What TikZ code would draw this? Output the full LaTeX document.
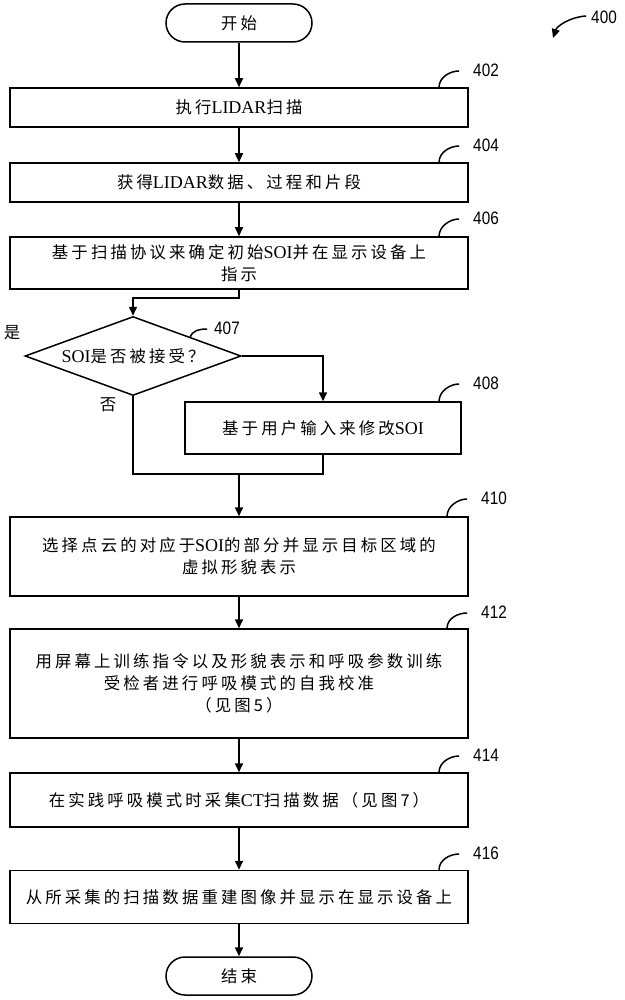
\documentclass[tikz,border=0pt]{standalone}
\usepackage{fontspec}
\setmainfont{Liberation Serif}
\newfontfamily\zhfont[LetterSpace=19]{Noto Sans CJK SC}
\newfontfamily\numfont[FakeStretch=0.85]{Liberation Sans}
\newcommand\zh[1]{{\zhfont\fontsize{16.4}{22}\selectfont #1}}
\newcommand\la[1]{{\fontsize{18}{22}\selectfont #1}}
\usetikzlibrary{shapes.geometric,arrows.meta,calc}

\begin{document}
\begin{tikzpicture}[x=1pt,y=-1pt,
  box/.style={draw, line width=1.5pt, minimum width=458pt, inner sep=0pt, align=center, font=\fontsize{16.4}{22}\selectfont},
  term/.style={draw, line width=1.5pt, rounded corners=19pt, minimum width=146pt, minimum height=38pt, inner sep=0pt},
  arr/.style={line width=1.5pt, -{Triangle[length=9pt,width=8pt]}},
  ln/.style={line width=1.5pt},
  num/.style={font=\numfont\fontsize{18}{20}\selectfont, inner sep=0pt},
  hookline/.style={line width=1.5pt},
]
\useasboundingbox (0,0) rectangle (624,1000);

\node[term] (start) at (239,23) {\zh{开始}};
\node[box, minimum height=39pt] (b402) at (239,107.5) {\zh{执行}\la{LIDAR}\zh{扫描}};
\node[box, minimum height=39pt] (b404) at (239,182.5) {\zh{获得}\la{LIDAR}\zh{数据、过程和片段}};
\node[box, minimum height=52pt] (b406) at (239,263) {\zh{基于扫描协议来确定初始}\la{SOI}\zh{并在显示设备上}\\\zh{指示}};
\node[draw, diamond, line width=1.5pt, minimum width=216pt, minimum height=79pt, inner sep=0pt, shape aspect=2.7] (dia) at (133,356) {\la{SOI}\zh{是否被接受？}};
\node[box, minimum width=276pt, minimum height=52pt] (b408) at (323,428) {\zh{基于用户输入来修改}\la{SOI}};
\node[box, minimum height=79pt] (b410) at (239,556.5) {\zh{选择点云的对应于}\la{SOI}\zh{的部分并显示目标区域的}\\\zh{虚拟形貌表示}};
\node[box, minimum height=109pt] (b412) at (239,683.5) {\zh{用屏幕上训练指令以及形貌表示和呼吸参数训练}\\\zh{受检者进行呼吸模式的自我校准}\\\zh{（见图5）}};
\node[box, minimum height=54pt] (b414) at (239,800) {\zh{在实践呼吸模式时采集}\la{CT}\zh{扫描数据（见图7）}};
\node[box, minimum height=53pt] (b416) at (239,897) {\zh{从所采集的扫描数据重建图像并显示在显示设备上}};
\node[term] (end) at (239,976) {\zh{结束}};

\node[inner sep=0pt] (yes) at (12,333) {\zh{是}};
\node[inner sep=0pt] (no) at (108,405) {\zh{否}};

% connectors
\draw[arr] (start) -- (b402);
\draw[arr] (b402) -- (b404);
\draw[arr] (b404) -- (b406);
\coordinate (j1) at (239,298);
\draw[arr] (b406.south) -- (j1) -| (dia.north);
\draw[arr] (dia.east) -| (b408.north);
\coordinate (jL) at (133,474);
\coordinate (jR) at (323,474);
\coordinate (jM) at (239,474);
\draw[ln] (dia.south) -- (jL) -- (jR) -- (b408.south);
\draw[arr] (jM) -- (b410);
\draw[arr] (b410) -- (b412);
\draw[arr] (b412) -- (b414);
\draw[arr] (b414) -- (b416);
\draw[arr] (b416) -- (end);

% reference numerals
\node[num] (n402) at (486,70) {402};
\node[num] (n404) at (486,145) {404};
\node[num] (n406) at (486,218) {406};
\node[num] (n407) at (227,328) {407};
\node[num] (n408) at (486,383) {408};
\node[num] (n410) at (494,498) {410};
\node[num] (n412) at (494,612) {412};
\node[num] (n414) at (486,755) {414};
\node[num] (n416) at (486,853) {416};
\foreach \k/\b in {402/b402,404/b404,406/b406,408/b408,410/b410,412/b412,414/b414,416/b416}{
  \path let \p1=(n\k.west), \p2=(\b.north) in
    coordinate (hs\k) at (\x1-34pt,\y2)
    coordinate (he\k) at (\x1-14pt,\y1-1pt);
  \draw[hookline] (hs\k) .. controls ($(hs\k)+(0,-10)$) and ($(he\k)+(-9,0)$) .. (he\k);
}
\coordinate (he407) at ($(n407.west)+(-7,1)$);
\coordinate (hs407) at (190,338);
\draw[hookline] (hs407) .. controls ($(hs407)+(2,-8)$) and ($(he407)+(-7,0)$) .. (he407);

\node[num] (n400) at (604,17) {400};
\coordinate (a400s) at ($(n400.west)+(-5,-1)$);
\coordinate (a400e) at (553,38);
\draw[arr] (a400s) .. controls ($(a400s)+(-16,1)$) and ($(a400e)+(4,-12)$) .. (a400e);
\end{tikzpicture}
\end{document}
